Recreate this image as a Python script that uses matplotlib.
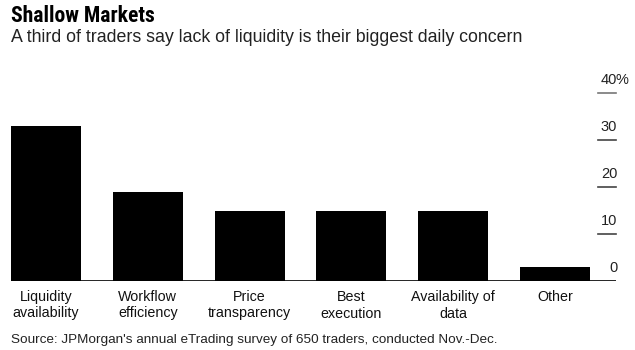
import matplotlib
matplotlib.use("Agg")
import matplotlib.pyplot as plt
import matplotlib.transforms as mtransforms

categories = ["Liquidity\navailability", "Workflow\nefficiency", "Price\ntransparency",
              "Best\nexecution", "Availability of\ndata", "Other"]
shares = [33, 19, 15, 15, 15, 3]
yticks = [0, 10, 20, 30, 40]

plt.rcParams['font.family'] = ['Liberation Sans', 'DejaVu Sans']

W, H = 635, 350
fig = plt.figure(figsize=(W / 100, H / 100), dpi=100)
# axes box in pixels: left 11, right 616, baseline 281 from top, 40% line at 93 from top
ax = fig.add_axes([11 / W, (H - 281) / H, 605 / W, (281 - 93) / H])

x = list(range(len(categories)))
ax.bar(x, shares, width=0.688, color='black')
ax.set_xlim(-0.344, 5.6)
ax.set_ylim(0, 40)
for s in ax.spines.values():
    s.set_visible(False)
ax.set_xticks([])
ax.set_yticks([])

ax.axhline(0, color='black', lw=1.2)

trans = mtransforms.blended_transform_factory(ax.transAxes, ax.transData)
for v in yticks:
    if v > 0:
        ax.plot([0.970, 1.0], [v, v], transform=trans, color='#444444' if v < 40 else '#777777',
                lw=1.2, clip_on=False)
    off = mtransforms.offset_copy(trans, fig=fig, x=0, y=13, units='dots')
    ax.text(1.002, v, str(v), transform=off, ha='right', va='center', fontsize=10.5,
            color='#222222')
    if v == 40:
        ax.text(1.0, v, "%", transform=off, ha='left', va='center', fontsize=10.5,
                color='#222222')

# category labels, two lines each, baselines at 301 and 317 px from top
xtrans = mtransforms.blended_transform_factory(ax.transData, fig.transFigure)
for xi, lab in zip(x, categories):
    for k, line in enumerate(lab.split("\n")):
        ax.text(xi, 1 - (301 + 16.5 * k) / H, line, transform=xtrans, ha='center',
                va='baseline', fontsize=10.3, color='#111111')

fig.text(11 / W, 1 - 22 / H, "Shallow Markets", fontsize=15.6, fontweight='bold',
         family=['Roboto Condensed', 'Liberation Sans'],
         va='baseline', ha='left', color='black')
fig.text(11 / W, 1 - 42 / H, "A third of traders say lack of liquidity is their biggest daily concern",
         fontsize=12.8, va='baseline', ha='left', color='#222222')
fig.text(11 / W, 1 - 343 / H,
         "Source: JPMorgan's annual eTrading survey of 650 traders, conducted Nov.-Dec.",
         fontsize=9.7, va='baseline', ha='left', color='#222222')

fig.savefig("out.png", dpi=100)
